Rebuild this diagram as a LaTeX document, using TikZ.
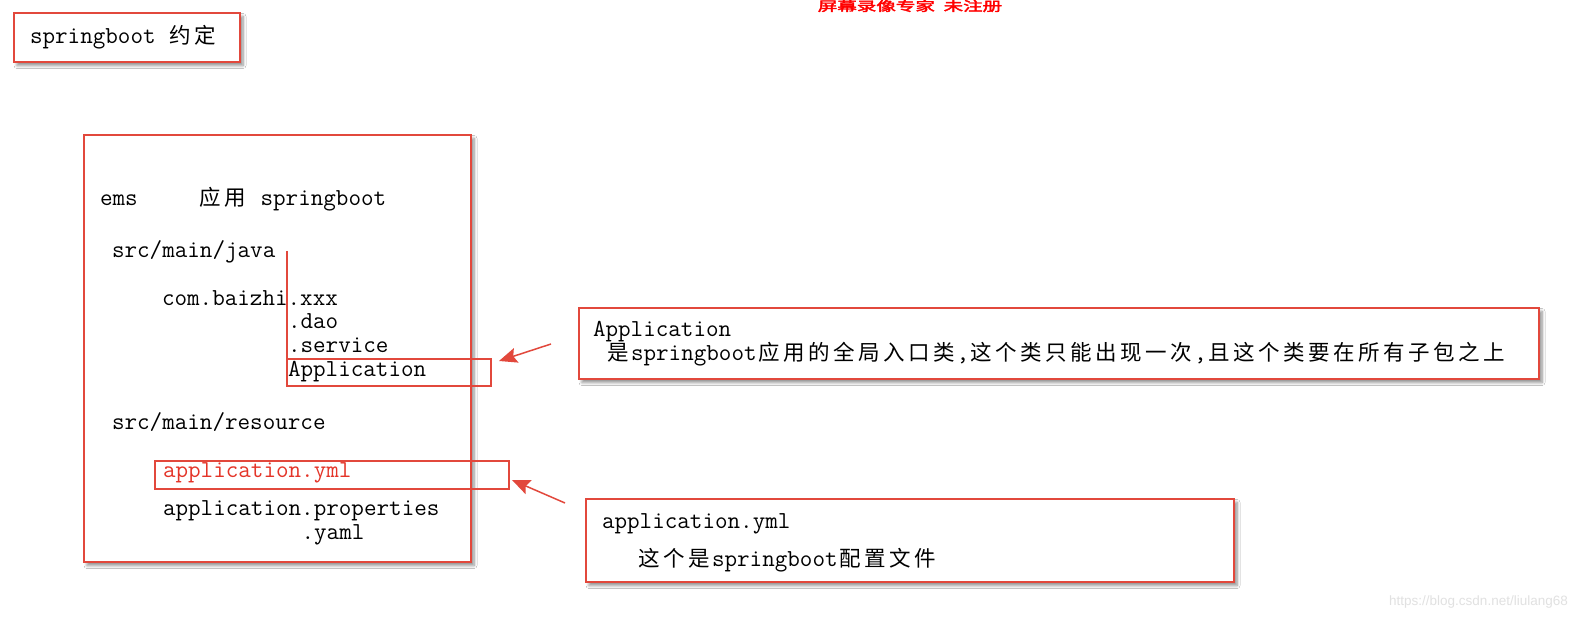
\documentclass[tikz,border=0pt]{standalone}
\usepackage{fontspec}
\newfontfamily\monof{Latin Modern Mono}
\newfontfamily\cjkf{Noto Sans CJK SC}
\newfontfamily\cjkbf[FakeBold=2.5]{Noto Sans CJK SC}
\newfontfamily\sansf{Liberation Sans}
\makeatletter
\def\zhcell#1{\makebox[25pt]{\cjkf\fontsize{21.5}{24}\selectfont #1}}
\def\zh@loop#1{\ifx#1\relax\else\zhcell{#1}\expandafter\zh@loop\fi}
\newcommand\zhtxt[1]{\zh@loop#1\relax}
\makeatother
\usetikzlibrary{shadows.blur,arrows.meta,calc}
\definecolor{boxred}{RGB}{226,72,60}
\definecolor{txtred}{RGB}{228,52,40}
\definecolor{wmgray}{RGB}{225,225,225}
\tikzset{
  redbox/.style={draw=boxred, line width=1.5pt, fill=white, inner sep=0pt, outer sep=0pt, anchor=north west,
    blur shadow={shadow xshift=3pt, shadow yshift=-3.5pt, shadow blur steps=6, shadow blur radius=3pt, shadow opacity=45}},
  markbox/.style={draw=boxred, line width=1.3pt, inner sep=0pt, outer sep=0pt, anchor=north west},
  txt/.style={inner sep=0pt, outer sep=0pt, anchor=base west, font=\monof\fontsize{24.4}{28}\selectfont},
  redarrow/.style={draw=boxred, line width=1.5pt, -{Stealth[length=18pt, width=15pt, inset=3pt]}}
}
\begin{document}
\begin{tikzpicture}[x=1pt, y=-1pt]
\useasboundingbox[fill=white] (0,0) rectangle (1579,617);

% watermark top
\node[inner sep=0pt, anchor=center, text=red, font=\cjkbf\fontsize{13}{14}\selectfont, xscale=1.5] (wm) at (910,6) {屏幕录像专家\ \ 未注册};

% title box
\node[redbox, minimum width=226pt, minimum height=49pt] (tbox) at (14,13) {};
\node[txt] (ttl) at (30,44) {springboot \zhtxt{约定}};

% big box
\node[redbox, minimum width=387pt, minimum height=427pt] (bigbox) at (84,135) {};
\node[txt] (ems) at (100,206) {ems};
\node[txt] (yy) at (198,206) {\zhtxt{应用} springboot};
\node[txt] (java) at (112,258) {src/main/java};
\node[txt] (pkg) at (162,306) {com.baizhi.xxx};
\node[txt] (dao) at (288,329) {.dao};
\node[txt] (svc) at (288,353) {.service};
\node[txt] (app) at (288,377) {Application};
\node[markbox, minimum width=204pt, minimum height=27pt] (appbox) at (287,359) {};
\coordinate (vtop) at (287,251);
\draw[boxred, line width=1.3pt] (vtop) -- (appbox.north west);
\node[txt] (res) at (112,429) {src/main/resource};
\node[txt, text=txtred] (yml) at (163,477) {application.yml};
\node[markbox, minimum width=354pt, minimum height=28pt] (ymlbox) at (155,461) {};
\node[txt] (props) at (163,515) {application.properties};
\node[txt] (yaml) at (301.6,539) {.yaml};

% right box 1
\node[redbox, minimum width=960pt, minimum height=71pt] (rbox1) at (579,308) {};
\node[txt] (r1a) at (593,337) {Application};
\node[txt] (r1b) at (606,361) {\zhtxt{是}springboot\zhtxt{应用的全局入口类},\zhtxt{这个类只能出现一次},\zhtxt{且这个类要在所有子包之上}};

% right box 2
\node[redbox, minimum width=648pt, minimum height=83pt] (rbox2) at (586,499) {};
\node[txt] (r2a) at (602,528) {application.yml};
\node[txt] (r2b) at (637,566) {\zhtxt{这个是}springboot\zhtxt{配置文件}};

% arrows
\coordinate (a1s) at (551,344);
\coordinate (a2s) at (565,503);
\draw[redarrow] (a1s) -- ($(appbox.east)+(8,-11.5)$);
\draw[redarrow] (a2s) -- ($(ymlbox.east)+(3,5)$);

% bottom watermark
\node[inner sep=0pt, anchor=base east, text=wmgray, font=\sansf\fontsize{13.5}{15}\selectfont] (csdn) at (1568,605) {https://blog.csdn.net/liulang68};
\end{tikzpicture}
\end{document}
